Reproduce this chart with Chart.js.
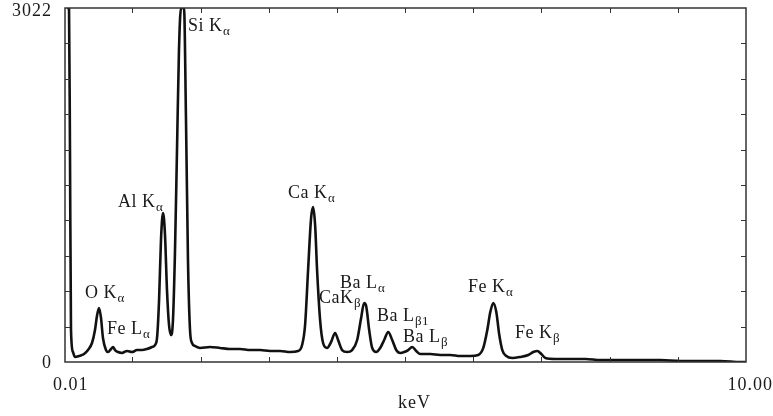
<!DOCTYPE html>
<html>
<head>
<meta charset="utf-8">
<script src="https://cdn.jsdelivr.net/npm/chart.js@4/dist/chart.umd.min.js"></script>
<style>
  html, body { margin: 0; padding: 0; background: #fff; }
  #wrap { width: 773px; height: 416px; position: relative; }
</style>
</head>
<body>
<div id="wrap"><canvas id="c" width="773" height="416"></canvas></div>
<script>
// ---- data ----
const energyKeV = [0.039,0.069,0.083,0.098,0.127,0.157,0.215,0.289,0.347,0.406,0.45,0.479,0.509,0.538,0.567,0.611,0.641,0.685,0.714,0.744,0.788,0.846,0.92,0.993,1.066,1.14,1.213,1.286,1.33,1.36,1.39,1.418,1.448,1.477,1.506,1.536,1.565,1.594,1.624,1.653,1.682,1.712,1.756,1.785,1.814,1.844,1.873,1.917,1.99,2.137,2.284,2.431,2.578,2.725,2.871,3.018,3.165,3.312,3.43,3.488,3.532,3.576,3.62,3.65,3.679,3.708,3.752,3.796,3.855,3.914,3.972,4.016,4.075,4.149,4.222,4.296,4.354,4.398,4.428,4.472,4.516,4.575,4.634,4.692,4.751,4.81,4.869,4.928,4.986,5.045,5.104,5.163,5.222,5.368,5.515,5.662,5.809,5.955,6.073,6.146,6.205,6.249,6.293,6.337,6.381,6.425,6.484,6.572,6.689,6.807,6.88,6.939,6.998,7.057,7.204,7.424,7.644,7.865,8.158,8.452,8.745,9.039,9.332,9.626,9.919,10.0];
const counts = [3022,3022,1810,273,85,43,51,68,102,162,273,393,461,376,205,102,85,111,128,102,85,77,94,85,102,102,111,128,145,205,529,1041,1272,1084,615,316,230,359,956,1810,2663,3022,3022,2066,871,273,162,137,120,128,120,111,111,102,102,94,94,85,94,145,316,785,1229,1323,1170,785,359,162,120,171,248,188,102,85,102,188,376,504,478,273,120,85,120,188,256,188,102,77,85,102,128,94,68,68,60,60,51,51,60,120,273,427,504,427,230,102,51,34,43,60,85,94,68,34,26,26,26,17,17,17,17,9,9,9,0,0];

const xTickLabels = ['0.01', '10.00'];
const yTickLabels = ['0', '3022'];
const xAxisTitle = 'keV';

// peak labels: main text and subscript
const peakText = ['Si K', 'Al K', 'O K', 'Fe L', 'Ca K', 'CaK', 'Ba L', 'Ba L', 'Ba L', 'Fe K', 'Fe K'];
const peakSub  = ['α', 'α', 'α', 'α', 'α', 'β', 'α', 'β1', 'β', 'α', 'β'];
// label anchors (left edge keV, vertical centre in counts)
const peakLabelKeV    = [1.814, 0.788, 0.303, 0.626, 3.281, 3.736, 4.044, 4.587, 4.968, 5.922, 6.612];
const peakLabelCounts = [2868, 1366, 589, 282, 1443, 546, 674, 393, 213, 640, 248];

const xMin = 0.01, xMax = 10.0, yMin = 0, yMax = 3022;

const points = energyKeV.map((e, i) => ({ x: e, y: counts[i] }));

const SERIF = '"Liberation Serif", "DejaVu Serif", serif';
const INK = '#1a1a1a';

const framePlugin = {
  id: 'frame',
  afterDatasetsDraw(chart) {
    const { ctx, chartArea: a, scales: { x, y } } = chart;
    ctx.save();
    // frame
    ctx.strokeStyle = '#333';
    ctx.lineWidth = 1.5;
    ctx.strokeRect(a.left, a.top, a.right - a.left, a.bottom - a.top);
    // inward ticks
    ctx.lineWidth = 1;
    const tl = 5;
    for (let k = 1; k <= 9; k++) {
      const px = Math.round(x.getPixelForValue(k)) + 0.5;
      ctx.beginPath();
      ctx.moveTo(px, a.bottom); ctx.lineTo(px, a.bottom - tl);
      ctx.moveTo(px, a.top); ctx.lineTo(px, a.top + tl);
      ctx.stroke();
    }
    for (let k = 1; k <= 9; k++) {
      const py = Math.round(y.getPixelForValue(yMax * k / 10)) + 0.5;
      ctx.beginPath();
      ctx.moveTo(a.left, py); ctx.lineTo(a.left + tl, py);
      ctx.moveTo(a.right, py); ctx.lineTo(a.right - tl, py);
      ctx.stroke();
    }
    // tick labels
    ctx.fillStyle = INK;
    ctx.font = '18px ' + SERIF;
    if ('letterSpacing' in ctx) ctx.letterSpacing = '1px';
    ctx.textBaseline = 'middle';
    ctx.textAlign = 'right';
    ctx.fillText(yTickLabels[0], a.left - 13, y.getPixelForValue(yMin) + 1);
    ctx.fillText(yTickLabels[1], a.left - 13, y.getPixelForValue(yMax) + 3);
    ctx.textAlign = 'left';
    ctx.fillText(xTickLabels[0], x.getPixelForValue(xMin) - 12, a.bottom + 23);
    ctx.textAlign = 'right';
    ctx.fillText(xTickLabels[1], x.getPixelForValue(xMax) + 27, a.bottom + 23);
    ctx.textAlign = 'center';
    ctx.fillText(xAxisTitle, (a.left + a.right) / 2 + 9, a.bottom + 41);
    if ('letterSpacing' in ctx) ctx.letterSpacing = '0.5px';
    // peak labels with subscripts
    ctx.textAlign = 'left';
    for (let i = 0; i < peakText.length; i++) {
      const px = x.getPixelForValue(peakLabelKeV[i]);
      const py = y.getPixelForValue(peakLabelCounts[i]);
      ctx.font = '18px ' + SERIF;
      ctx.fillText(peakText[i], px, py);
      const w = ctx.measureText(peakText[i]).width;
      ctx.font = '13px ' + SERIF;
      ctx.fillText(peakSub[i], px + w + 0.5, py + 6);
    }
    ctx.restore();
  }
};

new Chart(document.getElementById('c'), {
  type: 'line',
  data: {
    datasets: [{
      data: points,
      borderColor: '#111',
      borderWidth: 2.6,
      pointRadius: 0,
      fill: false,
      tension: 0.25,
      cubicInterpolationMode: 'monotone'
    }]
  },
  options: {
    responsive: false,
    animation: false,
    events: [],
    layout: { padding: { left: 65, right: 27, top: 8, bottom: 54 } },
    plugins: { legend: { display: false }, tooltip: { enabled: false } },
    scales: {
      x: { type: 'linear', min: xMin, max: xMax, display: false },
      y: { type: 'linear', min: yMin, max: yMax, display: false }
    }
  },
  plugins: [framePlugin]
});
</script>
</body>
</html>
